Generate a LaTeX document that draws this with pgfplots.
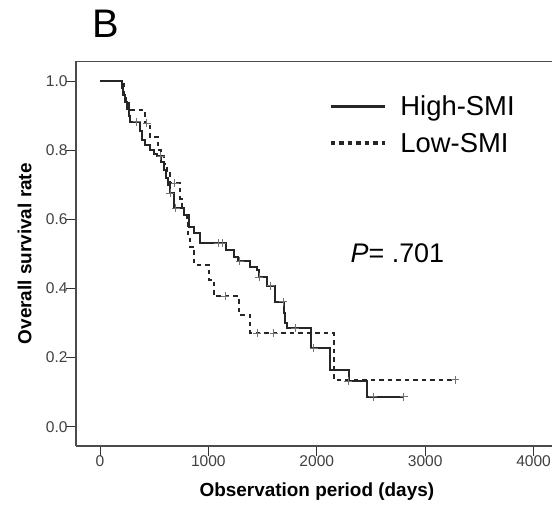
\documentclass[border=0pt]{standalone}
\usepackage{fontspec}
\setmainfont{Liberation Sans}
\usepackage{pgfplots}
\pgfplotsset{compat=1.18}
\begin{document}
\begin{tikzpicture}
\begin{axis}[
  scale only axis, width=476bp, height=384.5bp,
  xmin=-221, xmax=4170, ymin=-0.0558, ymax=1.0564,
  axis x line*=box, axis y line*=left,
  xtick pos=lower, ytick pos=left,
  tick align=outside, major tick length=10bp,
  xtick={0,1000,2000,3000,4000},
  ytick={0,0.2,0.4,0.6,0.8,1.0},
  /pgf/number format/assume math mode=true,
  ticklabel style={font=\fontsize{15.6}{18}\selectfont, text=black!75},
  yticklabel style={/pgf/number format/.cd,fixed,fixed zerofill,precision=1, /tikz/xshift=5bp},
  xticklabel style={/pgf/number format/1000 sep={}, /tikz/yshift=4bp},
  tick style={black!80, line width=0.9bp},
  axis line style={black!70, line width=1.1bp},
  xlabel={\bfseries Observation period (days)},
  ylabel={\bfseries Overall survival rate},
  xlabel style={font=\fontsize{19}{22}\selectfont, at={(axis description cs:0.506,-0.1326)}, anchor=base},
  ylabel style={font=\fontsize{19}{22}\selectfont, at={(axis description cs:-0.108,0.5)}, anchor=center},
  legend style={at={(axis description cs:0.531,0.917)}, anchor=north west, draw=none, fill=none,
    font=\fontsize{27.5}{32}\selectfont, inner sep=0pt, row sep=12bp,
    /tikz/every odd column/.append style={column sep=12bp}},
  legend cell align=left,
  legend image code/.code={\draw[#1, line width=3.5bp] (0bp,0bp) -- (54bp,0bp);},
  clip=false,
]
\addplot[const plot, black!85, line width=2bp] coordinates {
(0,1.0) (200,0.98) (215,0.96) (230,0.94) (245,0.92) (264,0.90) (280,0.882)
(372,0.855) (390,0.83) (420,0.815) (464,0.80) (500,0.79) (530,0.782)
(560,0.765) (587,0.743) (610,0.72) (630,0.70) (648,0.675) (680,0.632)
(772,0.613) (818,0.579) (864,0.56) (925,0.531) (1165,0.512) (1233,0.492)
(1275,0.478) (1387,0.462) (1450,0.452) (1463,0.432) (1540,0.408)
(1617,0.362) (1694,0.33) (1710,0.30) (1725,0.285) (1945,0.227)
(2125,0.165) (2295,0.131) (2465,0.087) (2801,0.087)
};
\addlegendentry{High-SMI}
\addplot[const plot, black!85, line width=2bp, dash pattern=on 4.5bp off 4bp] coordinates {
(0,1.0) (218,0.975) (225,0.955) (240,0.935) (264,0.916) (418,0.878)
(458,0.837) (535,0.80) (560,0.782) (587,0.76) (620,0.74) (648,0.704)
(741,0.66) (760,0.637) (772,0.618) (803,0.598) (815,0.55) (830,0.521)
(870,0.468) (1005,0.425) (1048,0.377) (1279,0.324) (1387,0.271)
(2155,0.136) (3278,0.136)
};
\addlegendentry{Low-SMI}
\addplot[only marks, mark=+, mark size=4bp, black!55, mark options={line width=0.8bp}, forget plot] coordinates {
(340,0.882) (650,0.675) (700,0.632) (1090,0.531) (1125,0.531) (1290,0.478)
(1470,0.432) (1575,0.408) (1690,0.362) (1800,0.285) (1970,0.227)
(2290,0.131) (2520,0.087) (2801,0.087)
};
\addplot[only marks, mark=+, mark size=4bp, black!55, mark options={line width=0.8bp}, forget plot] coordinates {
(430,0.878) (560,0.782) (690,0.704) (1156,0.377) (1448,0.271) (1602,0.271) (3278,0.136)
};
\node[anchor=base west, inner sep=0pt, font=\fontsize{27}{32}\selectfont] at (axis cs:2311,0.474) {\itshape P\upshape= .701};
\node[anchor=base west, inner sep=0pt, font=\fontsize{40}{46}\selectfont] at (axis description cs:0.034,1.063) {B};
\end{axis}
\pgfresetboundingbox
\path[use as bounding box] (-76bp,-63bp) rectangle (476bp,446bp);
\end{tikzpicture}
\end{document}
